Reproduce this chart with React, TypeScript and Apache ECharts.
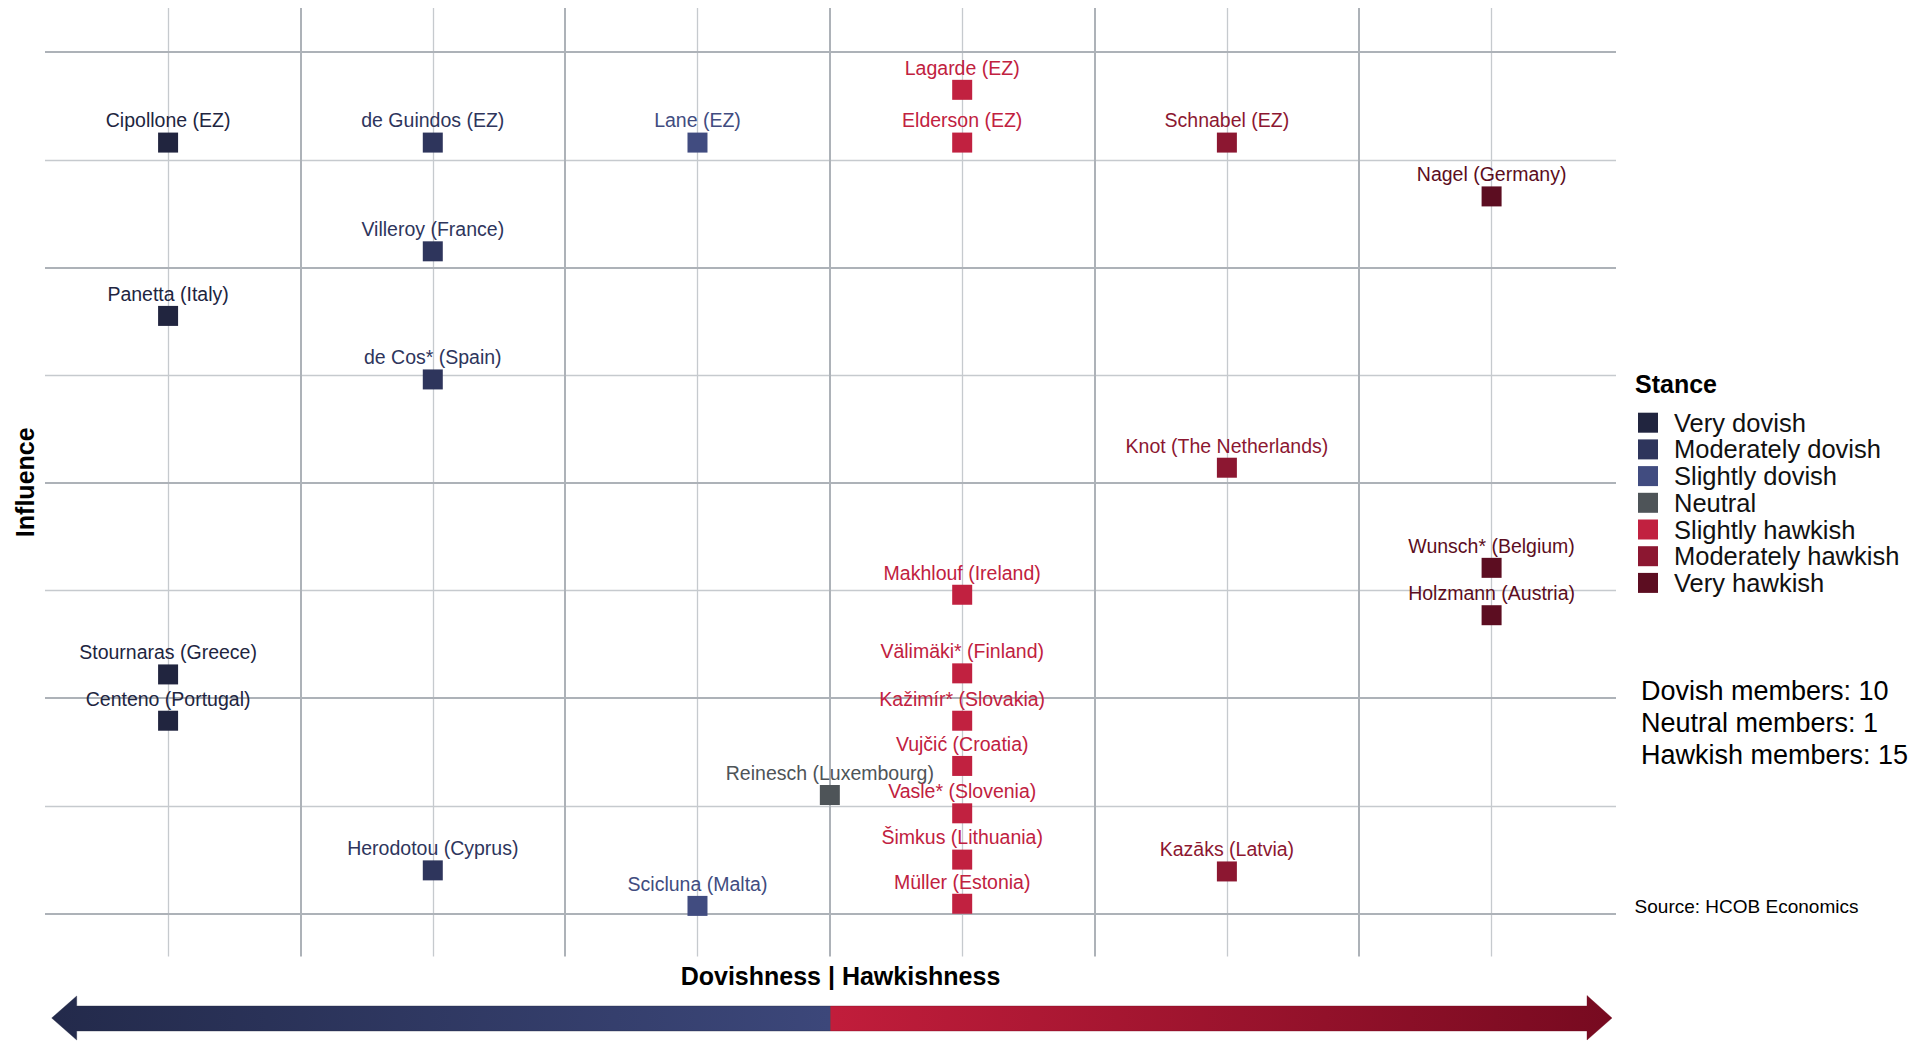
import React, { useEffect, useRef } from "react";
import * as echarts from "echarts";

const FONT = '"Liberation Sans", Arial, Helvetica, sans-serif';

// Stance categories
const stances = [
  "Very dovish",
  "Moderately dovish",
  "Slightly dovish",
  "Neutral",
  "Slightly hawkish",
  "Moderately hawkish",
  "Very hawkish",
];
// Position of each stance on the dovishness | hawkishness scale
const stanceScore = [-5, -3, -1, 0, 1, 3, 5];
const stanceColors = ["#21253f", "#2e355c", "#414c80", "#4e5458", "#c12140", "#8c1731", "#5c0d21"];

// Members
const memberNames = [
  "Lagarde (EZ)",
  "Cipollone (EZ)",
  "de Guindos (EZ)",
  "Lane (EZ)",
  "Elderson (EZ)",
  "Schnabel (EZ)",
  "Nagel (Germany)",
  "Villeroy (France)",
  "Panetta (Italy)",
  "de Cos* (Spain)",
  "Knot (The Netherlands)",
  "Wunsch* (Belgium)",
  "Makhlouf (Ireland)",
  "Holzmann (Austria)",
  "Stournaras (Greece)",
  "Välimäki* (Finland)",
  "Centeno (Portugal)",
  "Kažimír* (Slovakia)",
  "Vujčić (Croatia)",
  "Reinesch (Luxembourg)",
  "Vasle* (Slovenia)",
  "Šimkus (Lithuania)",
  "Herodotou (Cyprus)",
  "Kazāks (Latvia)",
  "Scicluna (Malta)",
  "Müller (Estonia)",
];
const memberStance = [4, 0, 1, 2, 4, 5, 6, 1, 0, 1, 5, 6, 4, 6, 0, 4, 0, 4, 4, 3, 4, 4, 1, 5, 2, 4];
const memberInfluence = [
  7.65, 7.16, 7.16, 7.16, 7.16, 7.16, 6.66, 6.15, 5.55, 4.96, 4.14, 3.21, 2.96, 2.77, 2.22, 2.23, 1.79,
  1.79, 1.37, 1.1, 0.93, 0.5, 0.4, 0.39, 0.07, 0.09,
];

// Grid line positions
const majorX = [-4, -2, 0, 2, 4];
const minorX = [-5, -3, -1, 1, 3, 5];
const majorY = [0, 2, 4, 6, 8];
const minorY = [1, 3, 5, 7];

const xTitle = "Dovishness | Hawkishness";
const yTitle = "Influence";
const legendTitle = "Stance";
const sourceText = "Source: HCOB Economics";

export default function App() {
  const ref = useRef<HTMLDivElement>(null);

  useEffect(() => {
    document.body.style.margin = "0";
    document.body.style.overflow = "hidden";
    if (!ref.current) return;
    const chart = echarts.init(ref.current, undefined, { renderer: "svg" });

    const majorStyle = { color: "#adb2b8", width: 2, type: "solid" };
    const minorStyle = { color: "#c6cace", width: 1.3, type: "solid" };

    const stanceSeries = stances.map((s, si) => ({
      name: s,
      type: "scatter",
      symbol: "rect",
      symbolSize: 20,
      z: 10,
      itemStyle: { color: stanceColors[si], opacity: 1 },
      emphasis: { disabled: true },
      label: {
        show: true,
        position: "top",
        distance: 2.2,
        formatter: "{b}",
        fontSize: 19.5,
        fontFamily: FONT,
        color: stanceColors[si],
      },
      data: memberNames
        .map((n, i) => ({ n, i }))
        .filter((m) => memberStance[m.i] === si)
        .map((m) => ({ name: m.n, value: [stanceScore[si], memberInfluence[m.i]] })),
    }));

    const dovish = memberStance.filter((s) => stanceScore[s] < 0).length;
    const neutral = memberStance.filter((s) => stanceScore[s] === 0).length;
    const hawkish = memberStance.filter((s) => stanceScore[s] > 0).length;

    const option: any = {
      animation: false,
      backgroundColor: "#ffffff",
      textStyle: { fontFamily: FONT },
      grid: { left: 45, right: 294, top: 8, bottom: 87.5, containLabel: false, outerBoundsMode: "none" },
      xAxis: {
        type: "value",
        min: -5.93,
        max: 5.94,
        axisLine: { show: false },
        axisTick: { show: false },
        axisLabel: { show: false },
        splitLine: { show: false },
        name: xTitle,
        nameLocation: "middle",
        nameGap: 7,
        nameTextStyle: {
          fontSize: 25,
          fontWeight: "bold",
          color: "#000",
          fontFamily: FONT,
          padding: [0, 0, 0, 20],
        },
      },
      yAxis: {
        type: "value",
        min: -0.4,
        max: 8.41,
        axisLine: { show: false },
        axisTick: { show: false },
        axisLabel: { show: false },
        splitLine: { show: false },
        name: yTitle,
        nameLocation: "middle",
        nameGap: 8,
        nameTextStyle: { fontSize: 25, fontWeight: "bold", color: "#000", fontFamily: FONT },
      },
      legend: {
        orient: "vertical",
        left: 1638,
        top: 409.7,
        padding: 0,
        itemWidth: 20,
        itemHeight: 20,
        itemGap: 0.7,
        icon: "rect",
        selectedMode: false,
        data: stances,
        textStyle: {
          fontSize: 25.5,
          color: "#111",
          fontFamily: FONT,
          padding: [0, 0, 0, 11],
        },
      },
      series: [
        {
          type: "line",
          data: [],
          silent: true,
          z: 1,
          markLine: {
            silent: true,
            z: 1,
            symbol: ["none", "none"],
            label: { show: false },
            animation: false,
            emphasis: { disabled: true },
            data: [
              ...minorX.map((v) => ({ xAxis: v, lineStyle: minorStyle })),
              ...minorY.map((v) => ({ yAxis: v, lineStyle: minorStyle })),
              ...majorX.map((v) => ({ xAxis: v, lineStyle: majorStyle })),
              ...majorY.map((v) => ({ yAxis: v, lineStyle: majorStyle })),
            ],
          },
        },
        ...stanceSeries,
      ],
      graphic: [
        {
          type: "text",
          left: 1635,
          top: 371,
          style: { text: legendTitle, fontSize: 25, fontWeight: "bold", fill: "#000", fontFamily: FONT },
        },
        {
          type: "text",
          left: 1641,
          top: 674.5,
          style: {
            text: [
              `Dovish members: ${dovish}`,
              `Neutral members: ${neutral}`,
              `Hawkish members: ${hawkish}`,
            ].join("\n"),
            fontSize: 27,
            lineHeight: 32.3,
            fill: "#000",
            fontFamily: FONT,
          },
        },
        {
          type: "text",
          left: 1634.6,
          top: 897,
          style: { text: sourceText, fontSize: 19, fill: "#000", fontFamily: FONT },
        },
        {
          type: "polygon",
          shape: {
            points: [
              [51.7, 1018],
              [76.7, 996],
              [76.7, 1006],
              [830.5, 1006],
              [830.5, 1031],
              [76.7, 1031],
              [76.7, 1040],
            ],
          },
          style: {
            fill: new echarts.graphic.LinearGradient(0, 0, 1, 0, [
              { offset: 0, color: "#232a4b" },
              { offset: 1, color: "#3c477a" },
            ]),
            stroke: "rgba(30,34,60,0.35)",
            lineWidth: 1,
          },
        },
        {
          type: "polygon",
          shape: {
            points: [
              [830.5, 1006],
              [1587, 1006],
              [1587, 995.5],
              [1612, 1018],
              [1587, 1040],
              [1587, 1031],
              [830.5, 1031],
            ],
          },
          style: {
            fill: new echarts.graphic.LinearGradient(0, 0, 1, 0, [
              { offset: 0, color: "#c11d3b" },
              { offset: 1, color: "#770a20" },
            ]),
            stroke: "rgba(110,10,30,0.35)",
            lineWidth: 1,
          },
        },
      ],
    };

    chart.setOption(option);
    return () => chart.dispose();
  }, []);

  return <div ref={ref} style={{ width: 1910, height: 1044 }} />;
}
